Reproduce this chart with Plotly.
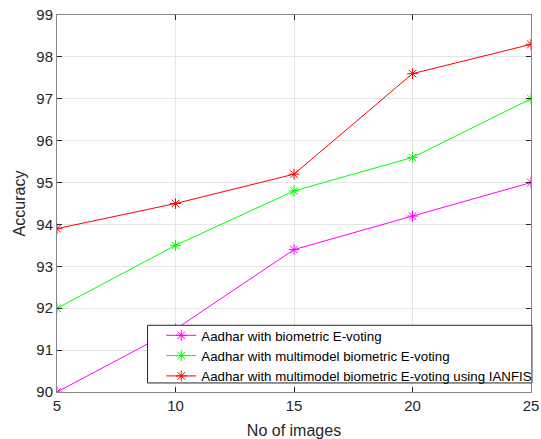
import plotly.graph_objects as go

x_images = [5, 10, 15, 20, 25]
acc_biometric = [90.0, 91.5, 93.4, 94.2, 95.0]
acc_multimodel = [92.0, 93.5, 94.8, 95.6, 97.0]
acc_ianfis = [93.9, 94.5, 95.2, 97.6, 98.3]
names = [
    "Aadhar with biometric E-voting",
    "Aadhar with multimodel biometric E-voting",
    "Aadhar with multimodel biometric E-voting using IANFIS",
]
colors = ["#ff00ff", "#00ff00", "#ff0000"]
series = [acc_biometric, acc_multimodel, acc_ianfis]

fig = go.Figure()
for name, ys, c in zip(names, series, colors):
    fig.add_trace(go.Scatter(
        x=x_images, y=ys, name=name, mode="lines+markers",
        line=dict(color=c, width=1),
        marker=dict(symbol="asterisk-open", size=9, color=c, line=dict(color=c, width=1)),
    ))

font = "Arial, Liberation Sans, Helvetica, sans-serif"
axis_common = dict(
    showline=True, linecolor="#868686", linewidth=1, mirror="ticks",
    ticks="inside", ticklen=5, tickcolor="#262626", tickwidth=1,
    showgrid=True, gridcolor="#e5e5e5", gridwidth=1, zeroline=False,
    tickfont=dict(family=font, size=15, color="#262626"),
    ticklabeloverflow="allow",
)
# legend frame (decoration)
fig.add_shape(type="rect", xref="paper", yref="paper",
              x0=0.191, x1=1.002, y0=0.024, y1=0.177,
              line=dict(color="#262626", width=1), fillcolor="white", layer="above")
fig.update_layout(
    width=541, height=439,
    margin=dict(l=57, r=2, t=15, b=46),
    paper_bgcolor="white", plot_bgcolor="white",
    font=dict(family=font, color="#262626"),
    xaxis=dict(range=[5, 25], tickvals=[5, 10, 15, 20, 25],
               title=dict(text="No of images", font=dict(family=font, size=16), standoff=12),
               **axis_common),
    yaxis=dict(range=[90, 99], dtick=1,
               title=dict(text="Accuracy", font=dict(family=font, size=16), standoff=6),
               **axis_common),
    legend=dict(x=0.22, y=0.1905, xanchor="left", yanchor="top",
                bgcolor="rgba(0,0,0,0)", borderwidth=0,
                font=dict(family=font, size=13.3, color="#000000"),
                tracegroupgap=0, itemwidth=30),
    showlegend=True,
)
fig.write_html(
    "out.html",
    config={"displayModeBar": False},
    post_script="document.body.style.margin='0';document.body.style.padding='0';document.body.style.overflow='hidden';",
)
